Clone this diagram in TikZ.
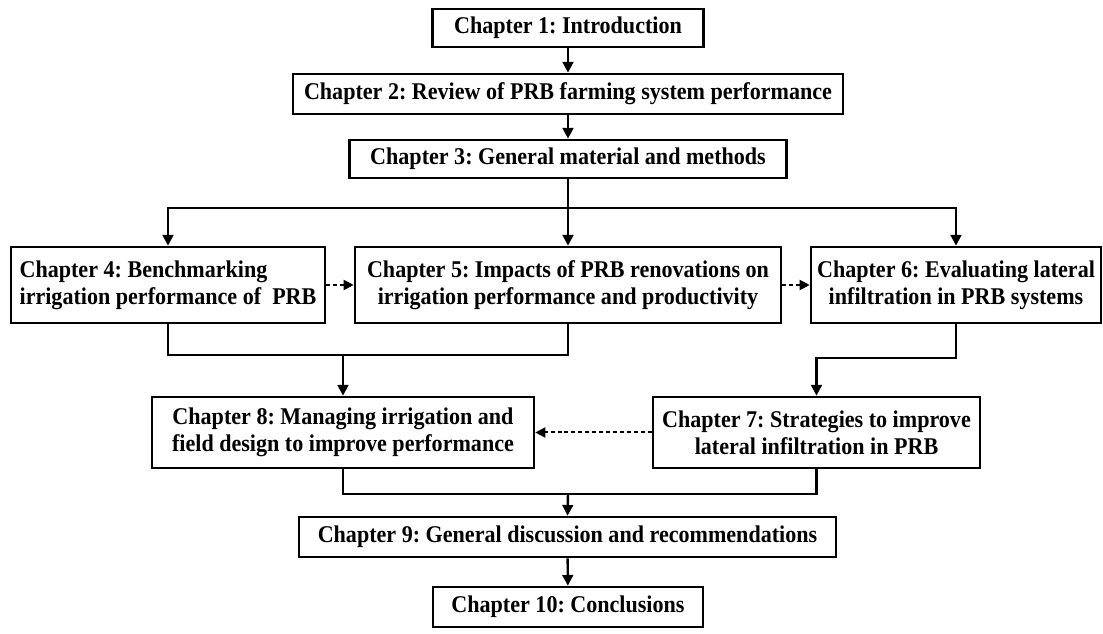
\documentclass[tikz,border=0pt]{standalone}
\usepackage{fontspec}
\setmainfont[FakeStretch=0.92]{Liberation Serif}
\usetikzlibrary{arrows.meta}
\frenchspacing
\begin{document}
\begin{tikzpicture}[x=0.75pt,y=-0.75pt,
  box/.style={draw, line width=2pt, inner sep=0pt, align=center,
    font=\fontsize{18pt}{20pt}\selectfont\bfseries\frenchspacing},
  arr/.style={line width=1.8pt, -{Triangle[length=8pt,width=8pt]}},
  lin/.style={line width=1.8pt},
  darr/.style={line width=1.5pt, dash pattern=on 3pt off 2.2pt, -{Triangle[length=7.5pt,width=7.5pt]}}
]
\useasboundingbox (0,0) rectangle (1103,634);
\node[box, minimum width={271*0.75pt}, minimum height={38*0.75pt}] (c1) at (568,28) {Chapter 1: Introduction};
\node[box, minimum width={550*0.75pt}, minimum height={40*0.75pt}] (c2) at (568,94) {Chapter 2: Review of PRB farming system performance};
\node[box, minimum width={437*0.75pt}, minimum height={38*0.75pt}] (c3) at (568,159) {Chapter 3: General material and methods};
\node[box, align=left, minimum width={314*0.75pt}, minimum height={76*0.75pt}] (c4) at (168,285) {Chapter 4: Benchmarking\\irrigation performance of\ \ PRB};
\node[box, minimum width={426*0.75pt}, minimum height={76*0.75pt}] (c5) at (568,285) {Chapter 5: Impacts of PRB renovations on\\irrigation performance and productivity};
\node[box, minimum width={290*0.75pt}, minimum height={76*0.75pt}] (c6) at (956,285) {Chapter 6: Evaluating lateral\\infiltration in PRB systems};
\node[box, minimum width={382*0.75pt}, minimum height={71*0.75pt}] (c8) at (343,432.5) {Chapter 8: Managing irrigation and\\field design to improve performance};
\node[box, minimum width={327*0.75pt}, minimum height={71*0.75pt}] (c7) at (816.5,432.5) {Chapter 7: Strategies to improve\\lateral infiltration in PRB};
\node[box, minimum width={537*0.75pt}, minimum height={40*0.75pt}] (c9) at (567.5,537) {Chapter 9: General discussion and recommendations};
\node[box, minimum width={270*0.75pt}, minimum height={40*0.75pt}] (c10) at (568,607) {Chapter 10: Conclusions};

\coordinate (j1) at (568,208);
\coordinate (j2) at (343,355);
\coordinate (j3) at (816.5,358);
\coordinate (j4) at (568,494);

\draw[arr] (c1) -- (c2);
\draw[arr] (c2) -- (c3);
\draw[arr] (c3) -- (c5);
\draw[arr] (j1) -| (c4.north);
\draw[arr] (j1) -| (c6.north);
\draw[darr] (c4) -- (c5);
\draw[darr] (c5) -- (c6);
\draw[lin] (c4.south) |- (j2) -| (c5.south);
\draw[arr] (j2) -- (c8.north);
\draw[arr] (c6.south) |- (j3) -- (c7.north);
\draw[darr] (c7) -- (c8);
\draw[lin] (c8.south) |- (j4) -| (c7.south);
\draw[arr] (j4) -- (c9.north);
\draw[arr] (c9) -- (c10);
\end{tikzpicture}
\end{document}
